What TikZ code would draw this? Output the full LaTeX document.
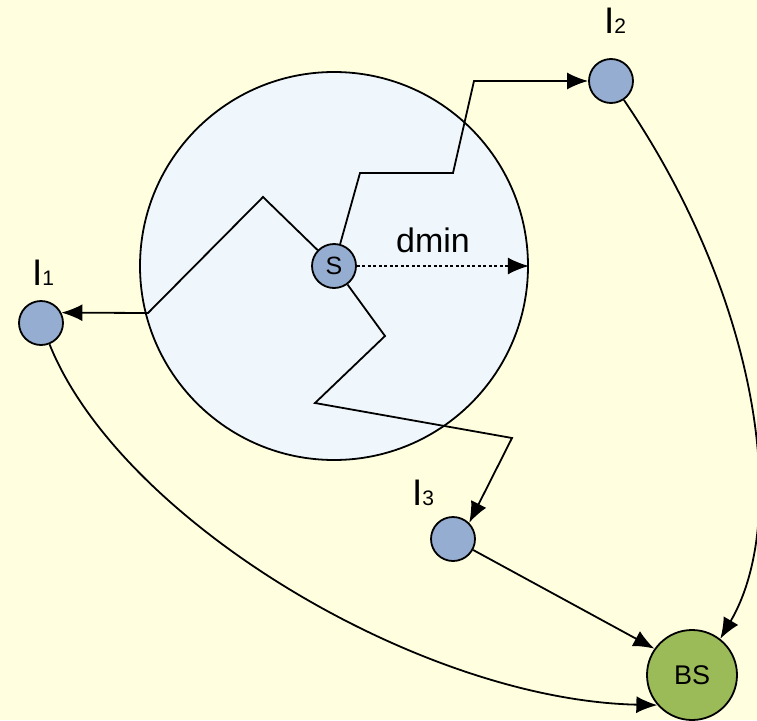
\documentclass[tikz,border=0pt]{standalone}
\usepackage{fontspec}
\setmainfont{Liberation Sans}
\usetikzlibrary{arrows.meta}
\definecolor{bgyel}{HTML}{FFFFE0}
\definecolor{zonefill}{HTML}{EFF7FC}
\definecolor{nodeblue}{HTML}{95ADD0}
\definecolor{bsgreen}{HTML}{9BBB59}
\begin{document}
\begin{tikzpicture}[x=1pt,y=-1pt,
  every node/.style={inner sep=0pt},
  relay/.style={circle,draw,line width=1.8pt,fill=nodeblue,minimum size=44pt},
  conn/.style={line width=1.8pt,-{Latex[length=21pt,width=17pt]}},
  lbl/.style={font=\fontsize{37}{40}\selectfont, anchor=base west}]
\fill[bgyel] (0,0) rectangle (757,720);
\useasboundingbox (0,0) rectangle (757,720);
\node[circle,draw,line width=1.8pt,fill=zonefill,minimum size=388pt] (zone) at (334,266) {};
\node[relay,font=\fontsize{25}{27}\selectfont] (S) at (334,266) {S};
\node[relay] (I1) at (41,323) {};
\node[relay] (I2) at (611,81) {};
\node[relay] (I3) at (453,539) {};
\node[circle,draw,line width=1.8pt,fill=bsgreen,minimum size=90pt,font=\fontsize{27}{29}\selectfont] (BS) at (692,675) {BS};
\node[lbl] (l1) at (32,285) {I\fontsize{21}{23}\selectfont 1};
\node[lbl] (l2) at (604,33) {I\fontsize{21}{23}\selectfont 2};
\node[lbl] (l3) at (412,505) {I\fontsize{21}{23}\selectfont 3};
\node[font=\fontsize{34}{36}\selectfont, anchor=base west] (dm) at (396,252) {dmin};
\draw[conn] (S) -- (263,197) -- (148,313) -- (I1.27);
\draw[conn] (S) -- (360,173) -- (453,173) -- (474,81) -- (I2);
\draw[conn] (S) -- (385,336) -- (315,403) -- (512,438) -- (I3.45);
\draw[conn,dash pattern=on 3pt off 2.5pt] (S) -- (zone.east);
\draw[conn] (I1) .. controls (120,520) and (420,700) .. (BS.221);
\draw[conn] (I2) .. controls (760,300) and (790,520) .. (BS.52);
\draw[conn] (I3) -- (BS.145);
\end{tikzpicture}
\end{document}
